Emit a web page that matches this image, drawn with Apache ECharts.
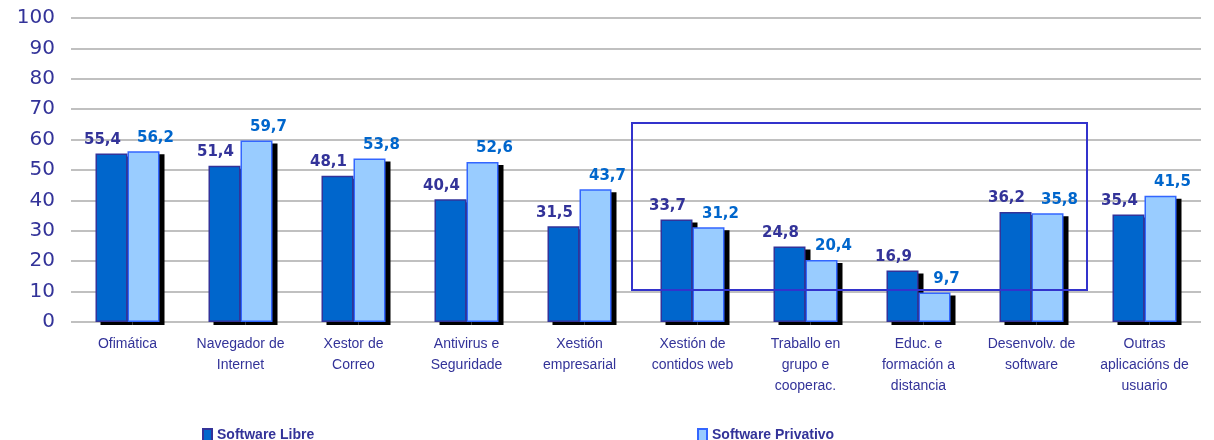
<!DOCTYPE html>
<html>
<head>
<meta charset="utf-8">
<script src="https://cdn.jsdelivr.net/npm/echarts@6/dist/echarts.min.js"></script>
<style>
  html, body { margin: 0; padding: 0; background: #ffffff; }
  #main { width: 1214px; height: 440px; }
</style>
</head>
<body>
<div id="main"></div>
<script>
// categorías (eixo X)
var categories = [
  'Ofimática', 'Navegador de\nInternet', 'Xestor de\nCorreo', 'Antivirus e\nSeguridade',
  'Xestión\nempresarial', 'Xestión de\ncontidos web', 'Traballo en\ngrupo e\ncooperac.',
  'Educ. e\nformación a\ndistancia', 'Desenvolv. de\nsoftware', 'Outras\naplicacións de\nusuario'
];
var libreValues = [55.4, 51.4, 48.1, 40.4, 31.5, 33.7, 24.8, 16.9, 36.2, 35.4];
var privativoValues = [56.2, 59.7, 53.8, 52.6, 43.7, 31.2, 20.4, 9.7, 35.8, 41.5];
var yTicks = [0, 10, 20, 30, 40, 50, 60, 70, 80, 90, 100];

var chart = echarts.init(document.getElementById('main'), null, { renderer: 'canvas' });

// formato con coma decimal
function comma(p) {
  return p.value.toFixed(1).replace('.', ',');
}

var labelFont = { fontSize: 15, fontWeight: 'bold', fontFamily: 'DejaVu Sans' };
var legendText = { color: '#333399', fontSize: 14, fontWeight: 'bold', fontFamily: 'Liberation Sans' };

var option = {
  backgroundColor: '#ffffff',
  animation: false,
  // grid 1 = sombra negra desprazada 5px á dereita e 3px abaixo
  grid: [
    { left: 71, right: 13, top: 18, bottom: 118 },
    { left: 76, right: 8, top: 21, bottom: 115 }
  ],
  legend: [{
    data: ['Software Libre'],
    left: 197, top: 423, icon: 'rect',
    itemWidth: 9, itemHeight: 12,
    textStyle: legendText
  }, {
    data: ['Software Privativo'],
    left: 692, top: 423, icon: 'rect',
    itemWidth: 9, itemHeight: 12,
    textStyle: legendText
  }],
  xAxis: [{
    type: 'category',
    data: categories,
    axisLine: { show: false },
    axisTick: { show: false },
    axisLabel: {
      interval: 0, color: '#333399', fontSize: 14, lineHeight: 21,
      fontFamily: 'Liberation Sans', margin: 12
    }
  }, {
    type: 'category', gridIndex: 1, data: categories, show: false
  }],
  yAxis: [{
    type: 'value',
    min: yTicks[0], max: yTicks[yTicks.length - 1], interval: 10,
    axisLine: { show: false },
    axisTick: { show: false },
    axisLabel: { color: '#333399', fontSize: 20, fontFamily: 'DejaVu Sans', margin: 16 },
    splitLine: { lineStyle: { color: '#c0c0c0', width: 2 } }
  }, {
    type: 'value', gridIndex: 1, show: false,
    min: yTicks[0], max: yTicks[yTicks.length - 1], splitLine: { show: false }
  }],
  series: [{
    type: 'bar', xAxisIndex: 1, yAxisIndex: 1, z: 1, silent: true,
    data: libreValues, barWidth: 32, barGap: '0%',
    itemStyle: { color: '#000000' }
  }, {
    type: 'bar', xAxisIndex: 1, yAxisIndex: 1, z: 1, silent: true,
    data: privativoValues, barWidth: 32,
    itemStyle: { color: '#000000' }
  }, {
    name: 'Software Libre',
    type: 'bar',
    data: libreValues,
    barWidth: 32,
    barGap: '0%',
    z: 3,
    itemStyle: { color: '#0066CC', borderColor: '#333399', borderWidth: 1.5 },
    label: Object.assign({
      show: true, position: 'top', distance: 6, offset: [-9, 0],
      formatter: comma, color: '#333399'
    }, labelFont)
  }, {
    name: 'Software Privativo',
    type: 'bar',
    data: privativoValues,
    barWidth: 32,
    z: 3,
    itemStyle: { color: '#99CCFF', borderColor: '#3366FF', borderWidth: 1.5 },
    label: Object.assign({
      show: true, position: 'top', distance: 6, offset: [12, 0],
      formatter: comma, color: '#0066CC'
    }, labelFont)
  }],
  graphic: [{
    type: 'rect',
    z: 100,
    shape: { x: 632, y: 123, width: 455, height: 167 },
    style: { fill: 'none', stroke: '#3333CC', lineWidth: 2 }
  }]
};

chart.setOption(option);
</script>
</body>
</html>
